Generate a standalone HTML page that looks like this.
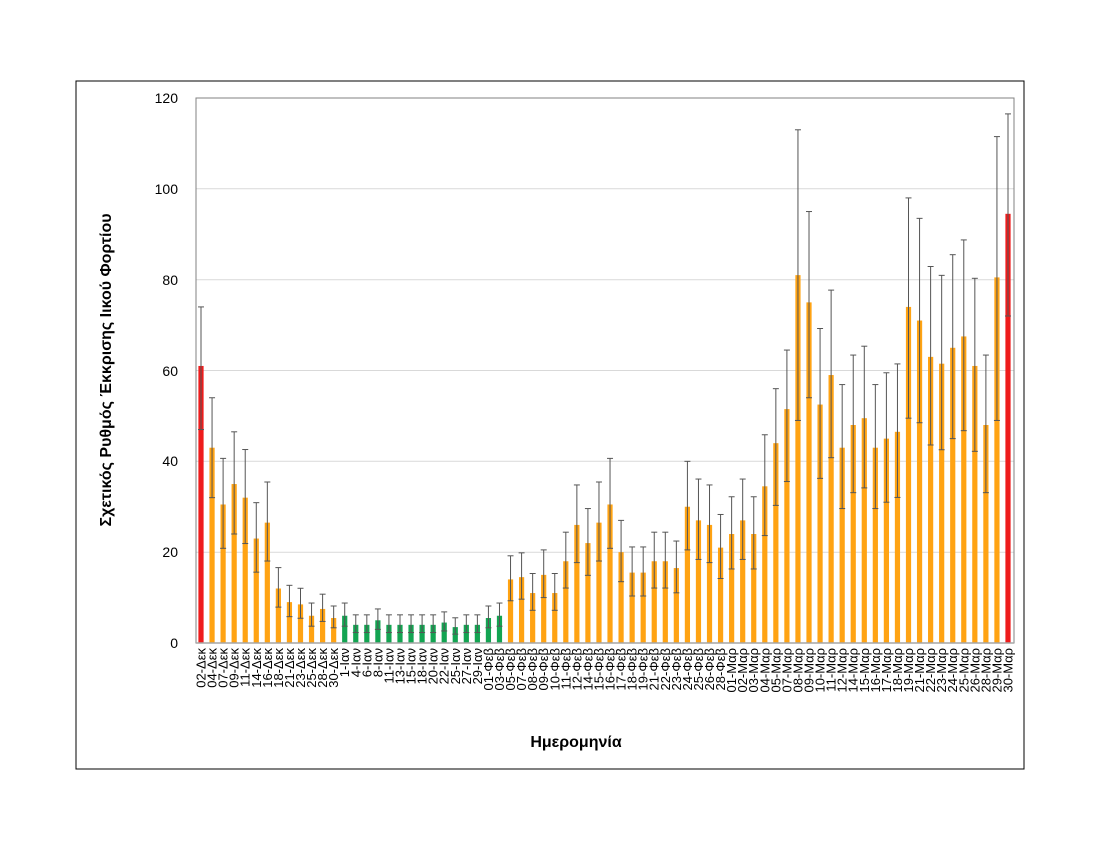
<!DOCTYPE html>
<html><head><meta charset="utf-8"><style>
html,body{margin:0;padding:0;background:#fff}
svg{display:block;font-family:"Liberation Sans",sans-serif}
</style></head><body>
<svg id="s" width="1100" height="850" viewBox="0 0 1100 850">
<rect x="76" y="81" width="948" height="688" fill="#fff" stroke="#000" stroke-width="1"/>
<g stroke="#d9d9d9" stroke-width="1">
<line x1="196" y1="188.8" x2="1014" y2="188.8"/>
<line x1="196" y1="279.7" x2="1014" y2="279.7"/>
<line x1="196" y1="370.5" x2="1014" y2="370.5"/>
<line x1="196" y1="461.3" x2="1014" y2="461.3"/>
<line x1="196" y1="552.2" x2="1014" y2="552.2"/>
</g>
<rect x="196" y="98" width="818" height="545" fill="none" stroke="#808080" stroke-width="1"/>
<g id="bars"></g>
<line x1="196" y1="643" x2="1014" y2="643" stroke="#a6a6a6" stroke-width="1.5"/>
<g font-size="14" text-anchor="end" fill="#000">
<text x="178" y="103">120</text><text x="178" y="194">100</text><text x="178" y="285">80</text>
<text x="178" y="376">60</text><text x="178" y="466">40</text><text x="178" y="557">20</text><text x="178" y="648">0</text>
</g>
<text transform="translate(111,370) rotate(-90)" text-anchor="middle" font-size="16" font-weight="bold">Σχετικός Ρυθμός Έκκρισης Ιικού Φορτίου</text>
<text x="576" y="747" text-anchor="middle" font-size="16" font-weight="bold">Ημερομηνία</text>
<g id="lbl" font-size="13" text-anchor="end">
<text>02-Δεκ</text><text>04-Δεκ</text><text>07-Δεκ</text><text>09-Δεκ</text><text>11-Δεκ</text><text>14-Δεκ</text><text>16-Δεκ</text><text>18-Δεκ</text><text>21-Δεκ</text><text>23-Δεκ</text><text>25-Δεκ</text><text>28-Δεκ</text><text>30-Δεκ</text>
<text>1-Ιαν</text><text>4-Ιαν</text><text>6-Ιαν</text><text>8-Ιαν</text><text>11-Ιαν</text><text>13-Ιαν</text><text>15-Ιαν</text><text>18-Ιαν</text><text>20-Ιαν</text><text>22-Ιαν</text><text>25-Ιαν</text><text>27-Ιαν</text><text>29-Ιαν</text>
<text>01-Φεβ</text><text>03-Φεβ</text><text>05-Φεβ</text><text>07-Φεβ</text><text>08-Φεβ</text><text>09-Φεβ</text><text>10-Φεβ</text><text>11-Φεβ</text><text>12-Φεβ</text><text>14-Φεβ</text><text>15-Φεβ</text><text>16-Φεβ</text><text>17-Φεβ</text><text>18-Φεβ</text><text>19-Φεβ</text><text>21-Φεβ</text><text>22-Φεβ</text><text>23-Φεβ</text><text>24-Φεβ</text><text>25-Φεβ</text><text>26-Φεβ</text><text>28-Φεβ</text>
<text>01-Μαρ</text><text>02-Μαρ</text><text>03-Μαρ</text><text>04-Μαρ</text><text>05-Μαρ</text><text>07-Μαρ</text><text>08-Μαρ</text><text>09-Μαρ</text><text>10-Μαρ</text><text>11-Μαρ</text><text>12-Μαρ</text><text>14-Μαρ</text><text>15-Μαρ</text><text>16-Μαρ</text><text>17-Μαρ</text><text>18-Μαρ</text><text>19-Μαρ</text><text>21-Μαρ</text><text>22-Μαρ</text><text>23-Μαρ</text><text>24-Μαρ</text><text>25-Μαρ</text><text>26-Μαρ</text><text>28-Μαρ</text><text>29-Μαρ</text><text>30-Μαρ</text>
</g>
</svg>
<script>
var v=[61,43,30.5,35,32,23,26.5,12,9,8.5,6,7.5,5.5,
6,4,4,5,4,4,4,4,4,4.5,3.5,4,4,5.5,6,
14,14.5,11,15,11,18,26,22,26.5,30.5,20,15.5,15.5,18,18,16.5,30,27,26,21,24,27,24,34.5,44,51.5,81,75,52.5,59,43,48,49.5,43,45,46.5,74,71,63,61.5,65,67.5,61,48,80.5,94.5];
var N=v.length;
var hi={0:74,1:54,54:113,55:95,73:116.5,72:111.5,64:98,65:93.5,53:64.5,52:56};
var lo={0:47,1:32,54:49,55:54,73:72,72:49,64:49.5,65:48.5};
var ns="http://www.w3.org/2000/svg",g=document.getElementById("bars");
function Y(a){return 643-a*4.5417;}
function el(t,a){var e=document.createElementNS(ns,t);for(var k in a)e.setAttribute(k,a[k]);g.appendChild(e);}
var labs=document.querySelectorAll("#lbl text");
var dx=(1008-201)/(N-1);
for(var i=0;i<N;i++){
 var x=201+i*dx,c=(i==0||i==N-1)?"#ee1c1c":(i>=13&&i<=27?"#13a452":"#ffa313");
 el("rect",{x:x-2.6,y:Y(v[i]),width:5.2,height:643-Y(v[i]),fill:c});
 var h=hi[i]!==undefined?hi[i]:v[i]*1.3+1,l=lo[i]!==undefined?lo[i]:v[i]*0.7-0.5;
 el("line",{x1:x,x2:x,y1:Y(h),y2:Y(l),stroke:"#555","stroke-width":1});
 el("line",{x1:x-3,x2:x+3,y1:Y(h),y2:Y(h),stroke:"#555","stroke-width":1});
 el("line",{x1:x-3,x2:x+3,y1:Y(l),y2:Y(l),stroke:"#555","stroke-width":1});
}
for(var j=0;j<labs.length;j++){var xx=201+j*(1008-201)/(labs.length-1);labs[j].setAttribute("transform","translate("+(xx+4.5)+",648) rotate(-90)");}
</script>
</body></html>
